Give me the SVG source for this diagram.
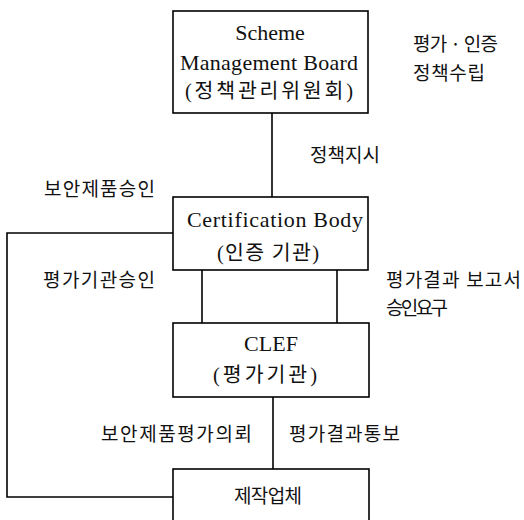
<svg xmlns="http://www.w3.org/2000/svg" width="524" height="520" viewBox="0 0 524 520">
<style>
.box{fill:#fff;stroke:#000;stroke-width:1.6}
.ln{fill:none;stroke:#000;stroke-width:1.6}
.en{font-family:"Liberation Serif","Noto Sans CJK KR",serif;font-size:22px;fill:#111}
.kr{font-family:"Liberation Serif","Noto Sans CJK KR",serif;font-size:20.5px;fill:#111}
.lb{font-family:"Noto Sans CJK KR","Liberation Sans",sans-serif;font-size:19px;fill:#111}
</style>
<rect width="524" height="520" fill="#fff"/>
<g id="connectors">
<line class="ln" x1="272" y1="113" x2="272" y2="197"/>
<path class="ln" d="M173,233 H7 V497 H173"/>
<line class="ln" x1="202" y1="270" x2="202" y2="323"/>
<line class="ln" x1="337" y1="270" x2="337" y2="323"/>
<line class="ln" x1="273" y1="397" x2="273" y2="469"/>
</g>
<g id="smb">
<rect class="box" x="173" y="11" width="195" height="102"/>
<text class="en" x="270" y="40" text-anchor="middle">Scheme</text>
<text class="en" x="269" y="70" text-anchor="middle" textLength="178" lengthAdjust="spacing">Management Board</text>
<text class="kr" x="269" y="98" text-anchor="middle" textLength="168" lengthAdjust="spacing">(정책관리위원회)</text>
</g>
<g id="cb">
<rect class="box" x="173" y="197" width="195" height="73"/>
<text class="en" x="275" y="227" text-anchor="middle" textLength="176" lengthAdjust="spacing">Certification Body</text>
<text class="kr" x="268" y="260" text-anchor="middle" textLength="102" lengthAdjust="spacing">(인증 기관)</text>
</g>
<g id="clef">
<rect class="box" x="173" y="323" width="196" height="74"/>
<text class="en" x="271" y="351" text-anchor="middle">CLEF</text>
<text class="kr" x="265" y="382" text-anchor="middle" textLength="104" lengthAdjust="spacing">(평가기관)</text>
</g>
<g id="maker">
<rect class="box" x="173" y="469" width="196" height="60"/>
<text class="lb" x="234" y="503" textLength="68" lengthAdjust="spacing">제작업체</text>
</g>
<g id="labels">
<text class="lb" x="413" y="51" textLength="85" lengthAdjust="spacing">평가 · 인증</text>
<text class="lb" x="413" y="80" textLength="72" lengthAdjust="spacing">정책수립</text>
<text class="lb" x="310" y="162" textLength="70" lengthAdjust="spacing">정책지시</text>
<text class="lb" x="44" y="196" textLength="111" lengthAdjust="spacing">보안제품승인</text>
<text class="lb" x="43" y="287" textLength="112" lengthAdjust="spacing">평가기관승인</text>
<text class="lb" x="386" y="287" textLength="135" lengthAdjust="spacing">평가결과 보고서</text>
<text class="lb" x="386" y="315" textLength="62" lengthAdjust="spacing">승인요구</text>
<text class="lb" x="101" y="441" textLength="151" lengthAdjust="spacing">보안제품평가의뢰</text>
<text class="lb" x="289" y="441" textLength="111" lengthAdjust="spacing">평가결과통보</text>
</g>
</svg>
